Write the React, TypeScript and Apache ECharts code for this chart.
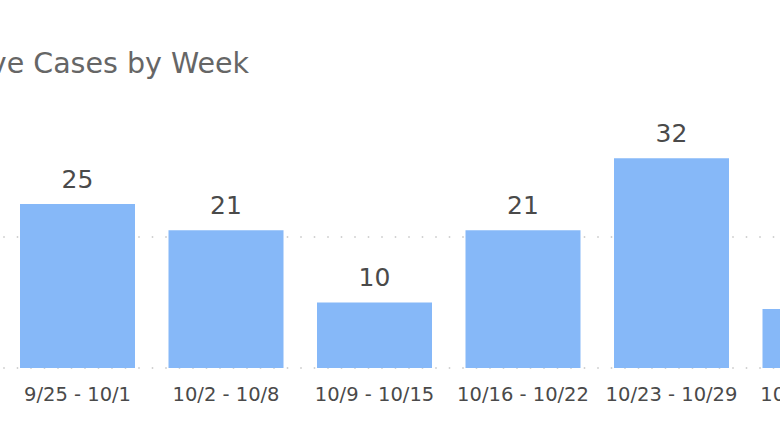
import React, { useEffect, useRef } from "react";
import * as echarts from "echarts";

const categories = ["9/25 - 10/1", "10/2 - 10/8", "10/9 - 10/15", "10/16 - 10/22", "10/23 - 10/29", "10/30 - 11/5"];
const cases = [25, 21, 10, 21, 32, 9];
const titleText = "Positive Cases by Week";

export default function App() {
  const ref = useRef<HTMLDivElement>(null);
  useEffect(() => {
    if (!ref.current) return;
    const chart = echarts.init(ref.current, null, { renderer: "svg" });
    chart.setOption({
      animation: false,
      backgroundColor: "#ffffff",
      textStyle: { fontFamily: "DejaVu Sans" },
      graphic: [
        {
          type: "text",
          x: 249,
          y: 63,
          style: {
            text: titleText,
            fontFamily: "DejaVu Sans",
            fontSize: 28.5,
            fill: "#666666",
            align: "right",
            verticalAlign: "middle",
          },
        },
      ],
      grid: { left: 3.25, top: 132, bottom: 71, width: 891, containLabel: false },
      xAxis: {
        type: "category",
        data: categories,
        axisLine: { show: false },
        axisTick: { show: false },
        axisLabel: { color: "#4a4a4a", fontSize: 19.5, margin: 16, fontFamily: "DejaVu Sans", interval: 0 },
      },
      yAxis: {
        type: "value",
        min: 0,
        max: 36,
        interval: 20,
        axisLabel: { show: false },
        axisLine: { show: false },
        axisTick: { show: false },
        splitLine: {
          show: true,
          showMaxLine: false,
          lineStyle: { color: "#c4c4c4", width: 1.5, type: [1.5, 12] },
        },
      },
      series: [
        {
          type: "bar",
          data: cases,
          barWidth: 115,
          itemStyle: { color: "#86b8f8" },
          label: {
            show: true,
            position: "top",
            distance: 12,
            color: "#4a4a4a",
            fontSize: 25,
            fontFamily: "DejaVu Sans",
          },
        },
      ],
    });
    return () => chart.dispose();
  }, []);
  return (
    <div style={{ position: "absolute", left: 0, top: 0, width: 780, height: 439, overflow: "hidden", background: "#fff" }}>
      <div ref={ref} style={{ width: 1000, height: 439 }} />
    </div>
  );
}
